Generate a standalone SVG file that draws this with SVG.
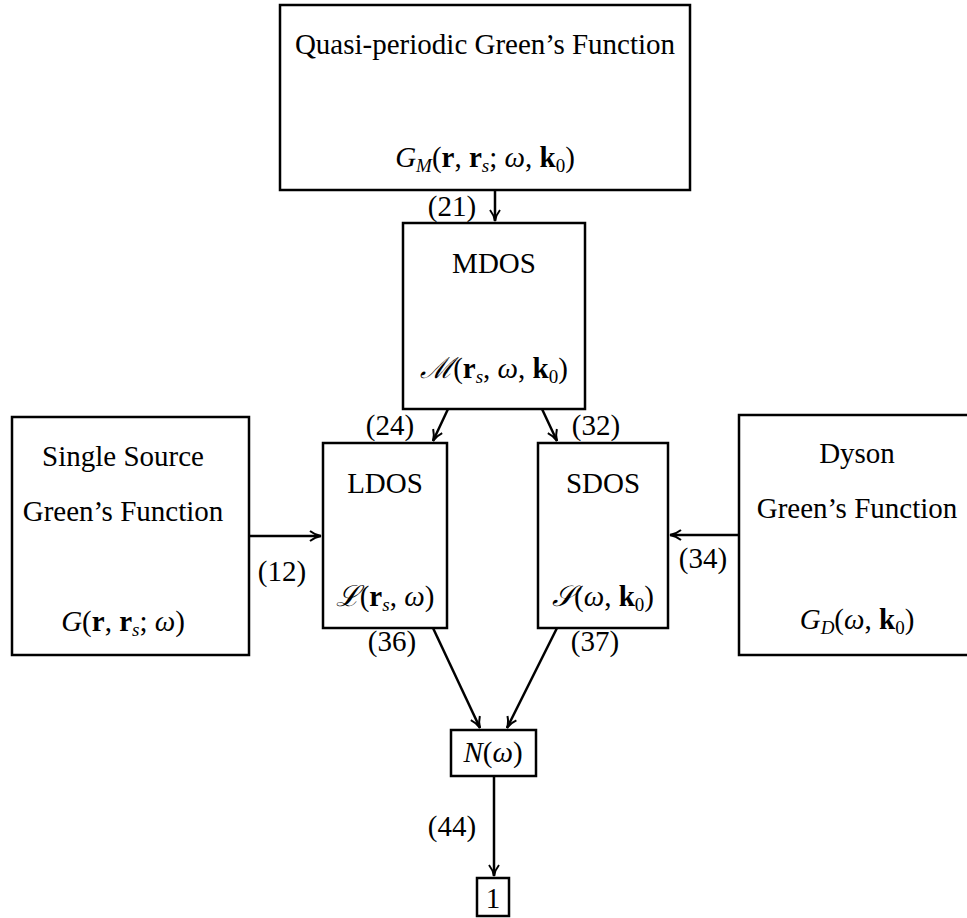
<svg xmlns="http://www.w3.org/2000/svg" width="967" height="918" viewBox="0 0 967 918">
<style>
text{font-family:"Liberation Serif","Times New Roman",serif;font-size:29px;fill:#000;text-anchor:middle}
.b{fill:#fff;stroke:#000;stroke-width:2.5}
.c{stroke:#000;stroke-width:2.5;fill:none}
.i{font-style:italic}
.bf{font-weight:bold}
.sub{font-size:19px}
</style>
<defs>
<marker id="ah" markerWidth="14" markerHeight="12" refX="12" refY="6" orient="auto" markerUnits="userSpaceOnUse">
<path d="M1,1 Q6,5 12,6 Q6,7 1,11" fill="none" stroke="#000" stroke-width="2"/>
</marker>
</defs>
<g id="connectors">
<line class="c" x1="495" y1="190" x2="495" y2="221" marker-end="url(#ah)"/>
<line class="c" x1="448" y1="409" x2="433" y2="441" marker-end="url(#ah)"/>
<line class="c" x1="542" y1="409" x2="557" y2="441" marker-end="url(#ah)"/>
<line class="c" x1="249" y1="536" x2="321" y2="536" marker-end="url(#ah)"/>
<line class="c" x1="739" y1="535" x2="670" y2="535" marker-end="url(#ah)"/>
<line class="c" x1="433" y1="628" x2="480" y2="728" marker-end="url(#ah)"/>
<line class="c" x1="557" y1="628" x2="507" y2="728" marker-end="url(#ah)"/>
<line class="c" x1="494" y1="776" x2="494" y2="876" marker-end="url(#ah)"/>
<text x="452" y="216">(21)</text>
<text x="390" y="435">(24)</text>
<text x="596" y="435">(32)</text>
<text x="282" y="581">(12)</text>
<text x="703" y="568">(34)</text>
<text x="392" y="651">(36)</text>
<text x="595" y="651">(37)</text>
<text x="452" y="836">(44)</text>
</g>
<g id="quasi">
<rect class="b" x="280" y="5" width="410" height="185"/>
<text x="485" y="54">Quasi-periodic Green’s Function</text>
<text x="485" y="167"><tspan class="i">G</tspan><tspan class="i sub" dy="5">M</tspan><tspan dy="-5">(</tspan><tspan class="bf">r</tspan>, <tspan class="bf">r</tspan><tspan class="i sub" dy="5">s</tspan><tspan dy="-5">;</tspan> <tspan class="i">ω</tspan>, <tspan class="bf">k</tspan><tspan class="sub" dy="5">0</tspan><tspan dy="-5">)</tspan></text>
</g>
<g id="mdos">
<rect class="b" x="403" y="223" width="182" height="186"/>
<text x="494" y="273">MDOS</text>
<text x="494" y="378"><tspan class="i">ℳ</tspan>(<tspan class="bf">r</tspan><tspan class="i sub" dy="5">s</tspan><tspan dy="-5">,</tspan> <tspan class="i">ω</tspan>, <tspan class="bf">k</tspan><tspan class="sub" dy="5">0</tspan><tspan dy="-5">)</tspan></text>
</g>
<g id="single">
<rect class="b" x="12" y="417" width="237" height="238"/>
<text x="123" y="466">Single Source</text>
<text x="123" y="521">Green’s Function</text>
<text x="123" y="631"><tspan class="i">G</tspan>(<tspan class="bf">r</tspan>, <tspan class="bf">r</tspan><tspan class="i sub" dy="5">s</tspan><tspan dy="-5">;</tspan> <tspan class="i">ω</tspan>)</text>
</g>
<g id="ldos">
<rect class="b" x="323" y="443" width="124" height="185"/>
<text x="385" y="493">LDOS</text>
<text x="385" y="606"><tspan class="i">ℒ</tspan>(<tspan class="bf">r</tspan><tspan class="i sub" dy="5">s</tspan><tspan dy="-5">,</tspan> <tspan class="i">ω</tspan>)</text>
</g>
<g id="sdos">
<rect class="b" x="538" y="443" width="130" height="185"/>
<text x="603" y="493">SDOS</text>
<text x="603" y="606"><tspan class="i">𝒮</tspan>(<tspan class="i">ω</tspan>, <tspan class="bf">k</tspan><tspan class="sub" dy="5">0</tspan><tspan dy="-5">)</tspan></text>
</g>
<g id="dyson">
<rect class="b" x="739" y="415" width="240" height="240"/>
<text x="857" y="463">Dyson</text>
<text x="857" y="518">Green’s Function</text>
<text x="857" y="629"><tspan class="i">G</tspan><tspan class="i sub" dy="5">D</tspan><tspan dy="-5">(</tspan><tspan class="i">ω</tspan>, <tspan class="bf">k</tspan><tspan class="sub" dy="5">0</tspan><tspan dy="-5">)</tspan></text>
</g>
<g id="n">
<rect class="b" x="451" y="730" width="85" height="46"/>
<text x="493" y="762"><tspan class="i">N</tspan>(<tspan class="i">ω</tspan>)</text>
</g>
<g id="one">
<rect class="b" x="477" y="878" width="32" height="38"/>
<text x="493" y="908">1</text>
</g>
</svg>
